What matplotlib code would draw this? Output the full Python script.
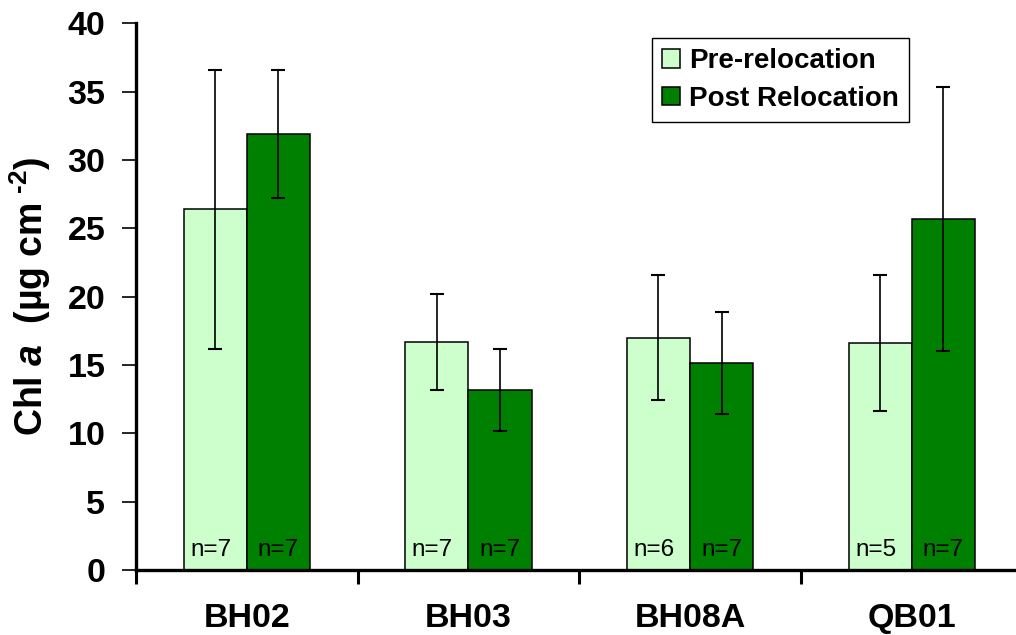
import matplotlib
matplotlib.use("Agg")
import matplotlib.pyplot as plt
import numpy as np

categories = ["BH02", "BH03", "BH08A", "QB01"]
pre_values = [26.4, 16.7, 17.0, 16.6]
pre_errors = [10.2, 3.5, 4.55, 5.0]
post_values = [31.9, 13.2, 15.15, 25.7]
post_errors = [4.7, 3.0, 3.7, 9.65]
pre_n = ["n=7", "n=7", "n=6", "n=5"]
post_n = ["n=7", "n=7", "n=7", "n=7"]
series_names = ["Pre-relocation", "Post Relocation"]
yticks = [0, 5, 10, 15, 20, 25, 30, 35, 40]

plt.rcParams['font.family'] = ['Liberation Sans', 'DejaVu Sans']
plt.rcParams['mathtext.fontset'] = 'custom'
plt.rcParams['mathtext.rm'] = 'Liberation Sans:bold'
plt.rcParams['mathtext.bf'] = 'Liberation Sans:bold'
plt.rcParams['mathtext.it'] = 'Liberation Sans:italic:bold'

W, H = 1016, 635
fig = plt.figure(figsize=(W / 100, H / 100), dpi=100)
left, right, bottom, top = 136, 1022.5, 570, 23.3
ax = fig.add_axes([left / W, 1 - bottom / H, (right - left) / W, (bottom - top) / H])

x = np.arange(len(categories))
bw = 0.285
err_kw = dict(ecolor='black', elinewidth=1.2, capsize=5, capthick=1.5)
ax.bar(x - bw / 2, pre_values, bw, yerr=pre_errors, color='#CCFFCC',
       edgecolor='black', linewidth=1.1, label=series_names[0], error_kw=err_kw, zorder=2)
ax.bar(x + bw / 2, post_values, bw, yerr=post_errors, color='#008000',
       edgecolor='black', linewidth=1.1, label=series_names[1], error_kw=err_kw, zorder=2)

for i in range(len(categories)):
    ax.text(x[i] - bw / 2 - 0.02, 1.0, pre_n[i], ha='center', va='baseline', fontsize=17.5)
    ax.text(x[i] + bw / 2, 1.0, post_n[i], ha='center', va='baseline', fontsize=17.5)

ax.set_xlim(-0.5, len(categories) - 0.5)
ax.set_ylim(0, 40)
ax.set_yticks(yticks)
ax.set_yticklabels([str(v) for v in yticks], fontsize=24.5, fontweight='bold')
ax.tick_params(axis='y', direction='out', length=10, width=1.2, pad=12)

ax.set_xticks(np.arange(len(categories) + 1) - 0.5)
ax.set_xticklabels([])
ax.tick_params(axis='x', which='major', direction='out', length=10, width=2.2)
ax.set_xticks(x, minor=True)
ax.set_xticklabels(categories, minor=True, fontsize=24.5, fontweight='bold')
ax.tick_params(axis='x', which='minor', length=0, pad=24)

for s in ['top', 'right']:
    ax.spines[s].set_visible(False)
for s in ['left', 'bottom']:
    ax.spines[s].set_linewidth(2.4)

ax.set_ylabel(r'Chl $\mathit{a}$  (µg cm$^{\ \text{-2}}$)', fontsize=27, fontweight='bold')
ax.yaxis.set_label_coords(-0.0936, 0.5)

leg = ax.legend(loc='upper left', bbox_to_anchor=(651.7 / W, 1 - 38 / H),
                bbox_transform=fig.transFigure, borderaxespad=0,
                prop={'weight': 'bold', 'size': 20}, fancybox=False,
                edgecolor='black', framealpha=1, handlelength=0.65, handleheight=0.65,
                handletextpad=0.35, labelspacing=0.42, borderpad=0.36)
leg.get_frame().set_linewidth(1.0)

fig.savefig('out.png', dpi=100)
